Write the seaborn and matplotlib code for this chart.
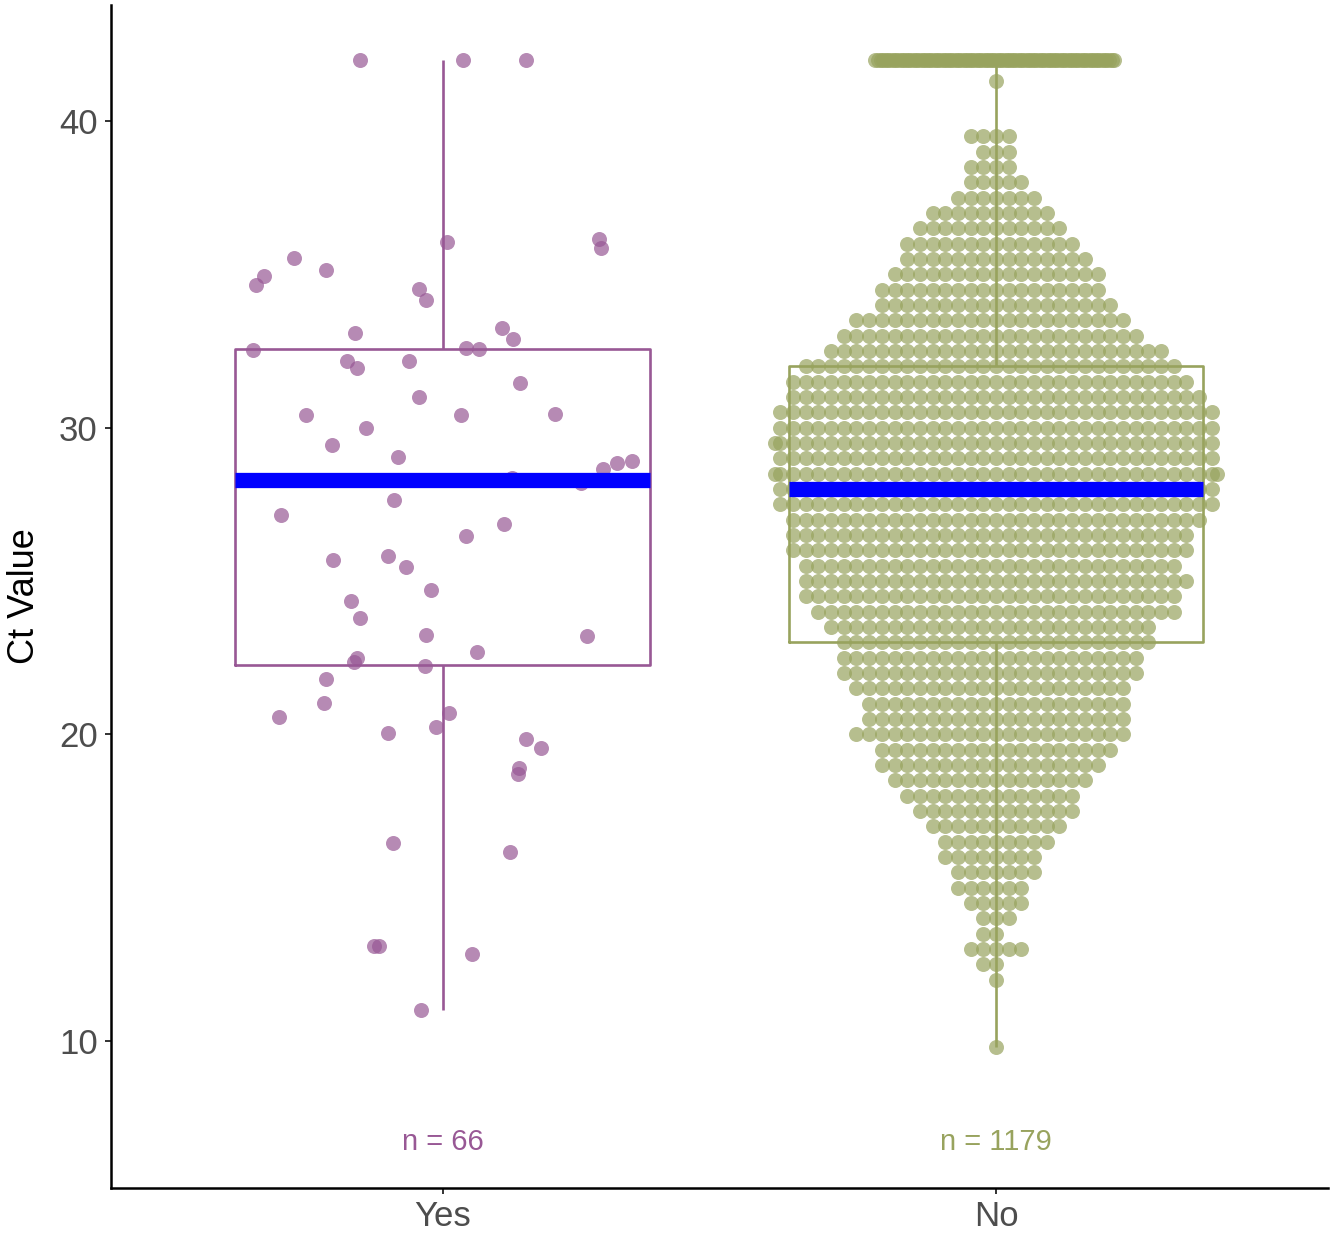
import numpy as np
import pandas as pd
import seaborn as sns
from matplotlib import pyplot as plt

order = ["Yes", "No"]

# "Yes" group: each point
yes_ct = [42.0, 42.0, 42.0, 36.05, 36.15, 35.86, 35.53, 35.14, 34.95, 34.52,
          34.65, 34.16, 33.25, 33.09, 32.89, 32.57, 32.53, 32.6, 32.17, 32.17,
          31.95, 31.46, 31.0, 30.41, 30.41, 30.45, 30.0, 29.44, 29.04, 28.85,
          28.91, 28.36, 28.65, 28.2, 27.64, 27.15, 26.86, 26.47, 25.82, 25.69,
          25.46, 24.71, 24.35, 23.79, 23.24, 23.21, 22.69, 22.49, 22.36, 22.23,
          21.81, 21.02, 20.7, 20.57, 20.24, 20.04, 19.85, 19.55, 18.9, 18.71,
          16.46, 16.16, 13.1, 12.84, 13.1, 11.01]

# "No" group: too dense to read one by one, so counts per half-Ct level
no_levels = [9.8, 12.0, 12.5, 13.0, 13.5, 14.0, 14.5, 15.0, 15.5, 16.0,
             16.5, 17.0, 17.5, 18.0, 18.5, 19.0, 19.5, 20.0, 20.5, 21.0,
             21.5, 22.0, 22.5, 23.0, 23.5, 24.0, 24.5, 25.0, 25.5, 26.0,
             26.5, 27.0, 27.5, 28.0, 28.5, 29.0, 29.5, 30.0, 30.5, 31.0,
             31.5, 32.0, 32.5, 33.0, 33.5, 34.0, 34.5, 35.0, 35.5, 36.0,
             36.5, 37.0, 37.5, 38.0, 38.5, 39.0, 39.5, 41.3, 42.0]
no_counts = [1, 1, 2, 5, 2, 3, 5, 6, 7, 8,
             9, 11, 13, 14, 16, 18, 19, 22, 21, 21,
             22, 24, 24, 25, 26, 29, 30, 31, 30, 32,
             32, 33, 35, 35, 37, 35, 36, 35, 35, 33,
             32, 30, 27, 24, 22, 19, 18, 17, 15, 14,
             12, 10, 7, 5, 4, 3, 4, 1, 92]

purple = "#985895"
olive = "#98A35E"

yes_df = pd.DataFrame({"group": "Yes", "ct": yes_ct})
no_ct = np.repeat(no_levels, no_counts)
no_df = pd.DataFrame({"group": "No", "ct": no_ct})
df = pd.concat([yes_df, no_df], ignore_index=True)

sns.set_theme(style="ticks")
plt.rcParams["font.family"] = ["Liberation Sans", "DejaVu Sans"]

fig = plt.figure(figsize=(13.33, 12.33), dpi=100)
ax = fig.add_axes([0.0833, 0.0365, 0.9129, 0.9594])


def fix_limits():
    ax.set_xlim(-0.6, 1.6)
    ax.set_ylim(5.21, 43.78)


def swarm(data, layout_size):
    # lay the swarm out with a small marker, then show bigger overlapping dots
    fix_limits()
    n_before = len(ax.collections)
    sns.swarmplot(data=data, x="group", y="ct", order=order, color=olive,
                  alpha=0.7, size=layout_size, linewidth=0, ax=ax)
    for pts in ax.collections[n_before:]:
        if "draw" in pts.__dict__:
            del pts.draw
        pts.set_sizes([10.8 ** 2])
        pts.set_zorder(1)


fix_limits()
np.random.seed(3)
sns.stripplot(data=yes_df, x="group", y="ct", order=order, color=purple,
              alpha=0.7, size=10.8, jitter=0.36, linewidth=0, ax=ax)

swarm(no_df[no_df["ct"] < 42], 8.7)
swarm(no_df[no_df["ct"] == 42], 1.8)

n_lines = len(ax.lines)
n_patches = len(ax.patches)
sns.boxplot(data=df, x="group", y="ct", order=order, hue="group", hue_order=order,
            palette=[purple, olive], fill=False, width=0.75, showcaps=False,
            showfliers=False, linewidth=1.9,
            medianprops=dict(color="blue", linewidth=11, solid_capstyle="butt"),
            legend=False, ax=ax)
# keep box, whiskers and the blue medians above the dots
for art in ax.patches[n_patches:]:
    art.set_zorder(3)
for art in ax.lines[n_lines:]:
    art.set_zorder(4 if art.get_color() == "blue" else 3)

ax.text(0, 6.7, f"n = {len(yes_ct)}", color=purple, ha="center", va="center", fontsize=21)
ax.text(1, 6.7, f"n = {len(no_ct)}", color=olive, ha="center", va="center", fontsize=21)

fix_limits()
ax.set_yticks([10, 20, 30, 40])
ax.set_xlabel("")
ax.set_ylabel("Ct Value", fontsize=26, color="black", labelpad=12)
ax.tick_params(axis="both", labelsize=25, labelcolor="#4D4D4D", color="#333333",
               length=4.5, width=1.4)
ax.tick_params(axis="y", pad=5)
ax.tick_params(axis="x", pad=4)
sns.despine(ax=ax)
for side in ["left", "bottom"]:
    ax.spines[side].set_linewidth(1.8)
    ax.spines[side].set_color("black")

fig.savefig("out.png", dpi=100)
